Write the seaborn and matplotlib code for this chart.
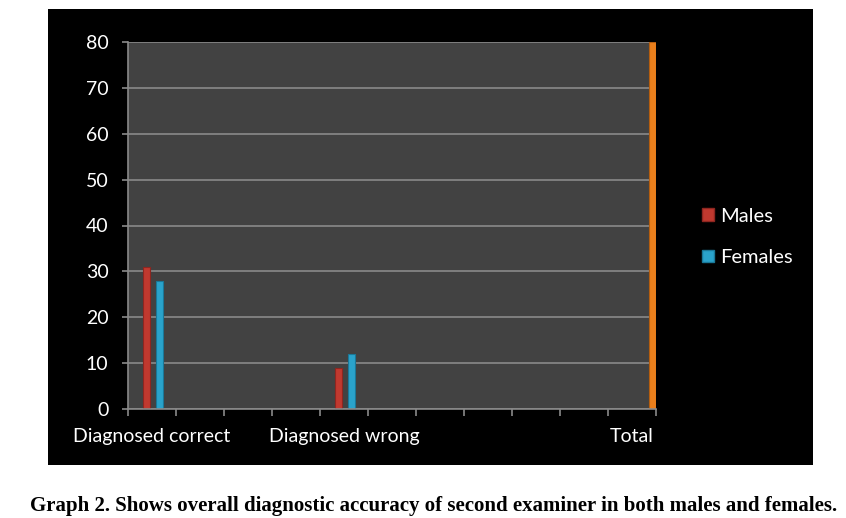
import numpy as np
import pandas as pd
import matplotlib
matplotlib.use("Agg")
import matplotlib.pyplot as plt
from matplotlib.patches import Rectangle, Patch
import seaborn as sns

# ---- data ----
x_labels = ["Diagnosed correct", "", "", "", "Diagnosed wrong", "", "", "", "", "", "Total"]
males = [31, None, None, None, 9, None, None, None, None, None, None]
females = [28, None, None, None, 12, None, None, None, None, None, None]
total = [None, None, None, None, None, None, None, None, None, None, 80]
series_names = ["Males", "Females", "Total"]
y_ticks = [0, 10, 20, 30, 40, 50, 60, 70, 80]

rows = []
for name, vals in zip(series_names, [males, females, total]):
    for i, v in enumerate(vals):
        if v is not None:
            rows.append({"slot": i, "series": name, "value": v})
df = pd.DataFrame(rows)

colors = {"Males": "#C0392F", "Females": "#2AA3CB", "Total": "#EA7F1C"}
edges = {"Males": "#8E2620", "Females": "#1A7898", "Total": "#B45E10"}

W, H = 846, 518
fig = plt.figure(figsize=(W / 100, H / 100), dpi=100)
fig.patch.set_facecolor("white")
# black chart panel
fig.patches.append(Rectangle((48 / W, 1 - 465 / H), (813 - 48) / W, (465 - 9) / H,
                             transform=fig.transFigure, facecolor="black",
                             edgecolor="none", zorder=-10))

ax = fig.add_axes([128 / W, 1 - 409 / H, 528 / W, (409 - 42) / H])
ax.set_zorder(1)
ax.set_facecolor("#424242")

sns.barplot(data=df, x="slot", y="value", hue="series", order=list(range(len(x_labels))),
            hue_order=series_names, palette=colors, width=0.813, gap=0.5,
            dodge=True, legend=False, ax=ax, linewidth=0.8, saturation=1)

for name, cont in zip(series_names, ax.containers):
    for p in cont:
        p.set_edgecolor(edges[name])

s = 0.153
n = len(x_labels)
ax.set_xlim(-0.5 - s, n - 0.5 - s)
ax.set_ylim(0, 80)
ax.set_yticks(y_ticks)
ax.set_xticks(np.arange(n) - s)
ax.set_xticklabels(x_labels)
ax.set_xticks(np.arange(n + 1) - 0.5 - s, minor=True)

ax.yaxis.grid(True, color="#8A8A8A", linewidth=1.2)
ax.xaxis.grid(False)
ax.set_axisbelow(True)
ax.set_xlabel("")
ax.set_ylabel("")

for side in ["top", "right"]:
    ax.spines[side].set_visible(False)
for side in ["left", "bottom"]:
    ax.spines[side].set_color("#8A8A8A")
    ax.spines[side].set_linewidth(1.2)

lbl_font = "Lato"
ax.tick_params(axis="y", colors="#8A8A8A", labelcolor="white", length=4, width=1.2,
               pad=10, labelsize=14)
ax.tick_params(axis="x", which="major", length=0, labelcolor="white", pad=14, labelsize=14)
ax.tick_params(axis="x", which="minor", colors="#8A8A8A", length=5, width=1.2)
for t in ax.get_xticklabels() + ax.get_yticklabels():
    t.set_fontfamily(lbl_font)

handles = [Patch(facecolor=colors[k], edgecolor=edges[k]) for k in ["Males", "Females"]]
leg = fig.legend(handles, ["Males", "Females"], loc="center left",
                 bbox_to_anchor=(684 / W, 1 - 237 / H), frameon=False,
                 handlelength=0.6, handleheight=0.6, handletextpad=0.3,
                 labelspacing=1.2, prop={"family": lbl_font, "size": 14.5})
for t in leg.get_texts():
    t.set_color("white")

fig.text(434 / W, 1 - 506 / H,
         "Graph 2. Shows overall diagnostic accuracy of second examiner in both males and females.",
         ha="center", va="center", family="Liberation Serif", weight="bold", fontsize=15,
         color="black")

fig.savefig("out.png", dpi=100, facecolor=fig.get_facecolor())
